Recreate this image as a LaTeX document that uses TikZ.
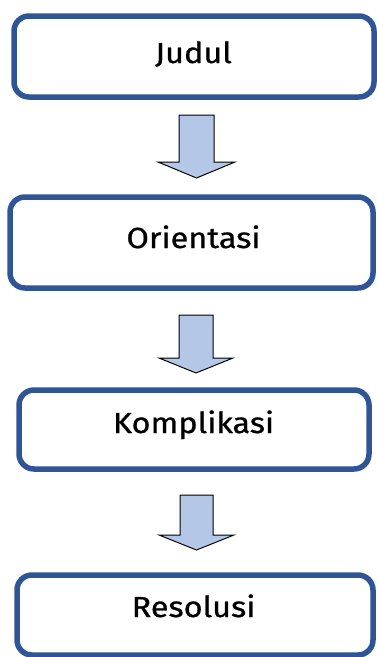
\documentclass[tikz,border=0pt]{standalone}
\usepackage{fontspec}
\setmainfont{Fira Sans}[FakeStretch=1.12, FakeBold=0.8]
\definecolor{boxblue}{HTML}{2F5597}
\definecolor{arrowfill}{HTML}{B4C7E7}
\tikzset{
  stagebox/.style={draw=boxblue, line width=5.5pt, rounded corners=15pt, fill=white, inner sep=0pt},
  stagetext/.style={anchor=base, inner sep=0pt, font=\fontsize{29}{32}\selectfont},
  blockarrow/.style={draw=black, line width=1pt, fill=arrowfill, line join=miter}
}
\begin{document}
\begin{tikzpicture}[x=1pt,y=-1pt]
\useasboundingbox (0,0) rectangle (377,657);
\clip (0,0) rectangle (377,657);
% boxes
\node[stagebox, minimum width=360pt, minimum height=81pt] (b1) at (194,56.5) {};
\node[stagebox, minimum width=363pt, minimum height=91pt] (b2) at (191.5,242.5) {};
\node[stagebox, minimum width=350pt, minimum height=79pt] (b3) at (194,429.5) {};
\node[stagebox, minimum width=356pt, minimum height=80pt] (b4) at (195,615) {};
% texts
\node[stagetext] (t1) at (193.5,63) {Judul};
\node[stagetext] (t2) at (193.5,248) {Orientasi};
\node[stagetext] (t3) at (193.5,433) {Komplikasi};
\node[stagetext] (t4) at (193.5,617) {Resolusi};
% block arrows
\draw[blockarrow] (179,115) -- (214,115) -- (214,162) -- (235,162) -- (196.5,178) -- (158,162) -- (179,162) -- cycle;
\draw[blockarrow] (179,315) -- (213,315) -- (213,358) -- (233,358) -- (196,373) -- (159,358) -- (179,358) -- cycle;
\draw[blockarrow] (180,495) -- (213,495) -- (213,535) -- (234,535) -- (196.5,550) -- (159,535) -- (180,535) -- cycle;
\end{tikzpicture}
\end{document}
